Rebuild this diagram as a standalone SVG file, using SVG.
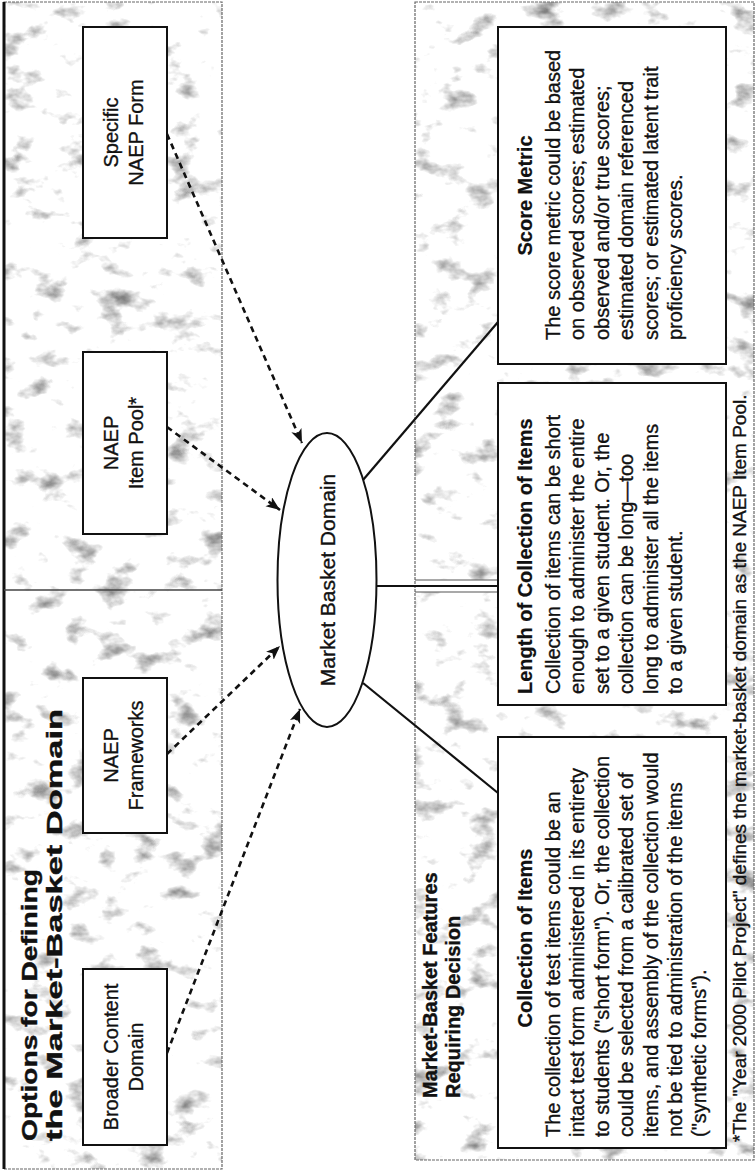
<svg xmlns="http://www.w3.org/2000/svg" width="756" height="1174" viewBox="0 0 756 1174">
<defs>
<style>
.t{font-family:"Liberation Sans",Arial,Helvetica,sans-serif;fill:#111;stroke:#111;stroke-width:0.35}
.lbl{font-size:20px}
.ell{font-size:21px}
.hdr{font-size:20px;font-weight:bold;stroke-width:0.2}
.body{font-size:20px}
.title{font-size:22px;font-weight:bold;stroke-width:0.4}
.foot{font-size:19px}
.box{fill:#fff;stroke:#111;stroke-width:2}
.pborder{fill:none;stroke:#666;stroke-width:1.2;stroke-dasharray:3 1}
.tex{fill:#fff;filter:url(#mottle)}
.dash{fill:none;stroke:#111;stroke-width:2.6;stroke-dasharray:6 4.5;marker-end:url(#ah)}
.solid{fill:none;stroke:#111;stroke-width:2.2}
</style>
<marker id="ah" markerUnits="userSpaceOnUse" markerWidth="16" markerHeight="12" refX="14" refY="5.5" orient="auto">
<path d="M0,0 L14,5.5 L0,11 L3.5,5.5 z" fill="#111"/>
</marker>
<filter id="mottle" x="0" y="0" width="1" height="1" color-interpolation-filters="sRGB">
<feTurbulence type="fractalNoise" baseFrequency="0.03 0.045" numOctaves="4" seed="7" result="n"/>
<feColorMatrix in="n" type="matrix" values="0 0 0 0 0.5  0 0 0 0 0.5  0 0 0 0 0.5  3 0 0 0 -1.72"/>
</filter>
</defs>
<rect x="0" y="0" width="756" height="1174" fill="#fff"/>

<g id="panel-options">
<rect class="tex" x="4" y="2" width="218" height="1167"/>
<rect class="pborder" x="4" y="2" width="218" height="1167"/>
<line x1="4" y1="2" x2="4" y2="1169" stroke="#111" stroke-width="3"/>
<line x1="4" y1="590" x2="222" y2="590" stroke="#444" stroke-width="1.5"/>
<g transform="rotate(-90)">
<text class="t title" x="-1141" y="37" textLength="272" lengthAdjust="spacingAndGlyphs">Options for Defining</text>
<text class="t title" x="-1141" y="62" textLength="432" lengthAdjust="spacingAndGlyphs">the Market-Basket Domain</text>
</g>
</g>

<g id="panel-features">
<rect class="tex" x="415" y="2" width="339" height="578"/>
<rect class="tex" x="415" y="592" width="339" height="568"/>
<rect class="pborder" x="415" y="2" width="339" height="1158"/>
<line x1="415" y1="580" x2="498" y2="580" stroke="#555" stroke-width="1.2"/>
<line x1="415" y1="592" x2="498" y2="592" stroke="#555" stroke-width="1.2"/>
<g transform="rotate(-90)">
<text class="t title" x="-1098" y="437" style="font-size:20px">Market-Basket Features</text>
<text class="t title" x="-1098" y="460" style="font-size:20px">Requiring Decision</text>
<text class="t foot" x="-1142" y="746">*The "Year 2000 Pilot Project" defines the market-basket domain as the NAEP Item Pool.</text>
</g>
</g>

<g id="connectors">
<line class="dash" x1="167" y1="134" x2="302" y2="443"/>
<line class="dash" x1="167" y1="427" x2="280" y2="510"/>
<line class="dash" x1="167" y1="754" x2="280" y2="646"/>
<line class="dash" x1="167" y1="1053" x2="300" y2="709"/>
<line class="solid" x1="363" y1="480" x2="498" y2="322"/>
<line class="solid" x1="377" y1="586" x2="498" y2="586"/>
<line class="solid" x1="363" y1="683" x2="498" y2="793"/>
</g>

<g id="node-specific">
<rect class="box" x="83" y="27" width="84" height="211"/>
<g transform="rotate(-90)">
<text class="t lbl" x="-132.5" y="118" text-anchor="middle">Specific</text>
<text class="t lbl" x="-132.5" y="143" text-anchor="middle">NAEP Form</text>
</g>
</g>

<g id="node-itempool">
<rect class="box" x="83" y="352" width="84" height="182"/>
<g transform="rotate(-90)">
<text class="t lbl" x="-443" y="118" text-anchor="middle">NAEP</text>
<text class="t lbl" x="-443" y="143" text-anchor="middle">Item Pool*</text>
</g>
</g>

<g id="node-frameworks">
<rect class="box" x="83" y="678" width="84" height="155"/>
<g transform="rotate(-90)">
<text class="t lbl" x="-755.5" y="118" text-anchor="middle">NAEP</text>
<text class="t lbl" x="-755.5" y="143" text-anchor="middle">Frameworks</text>
</g>
</g>

<g id="node-broader">
<rect class="box" x="83" y="969" width="84" height="176"/>
<g transform="rotate(-90)">
<text class="t lbl" x="-1057" y="118" text-anchor="middle">Broader Content</text>
<text class="t lbl" x="-1057" y="143" text-anchor="middle">Domain</text>
</g>
</g>

<g id="node-domain">
<ellipse cx="327" cy="580" rx="49.5" ry="147" fill="#fff" stroke="#111" stroke-width="2"/>
<g transform="rotate(-90)">
<text class="t ell" x="-580" y="335" text-anchor="middle">Market Basket Domain</text>
</g>
</g>

<g id="node-score">
<rect class="box" x="498" y="27" width="228" height="337"/>
<g transform="rotate(-90)">
<text class="t hdr" x="-195.5" y="532" text-anchor="middle">Score Metric</text>
<text class="t body" x="-340" y="560">The score metric could be based</text>
<text class="t body" x="-340" y="584.4">on observed scores; estimated</text>
<text class="t body" x="-340" y="608.8">observed and/or true scores;</text>
<text class="t body" x="-340" y="633.2">estimated domain referenced</text>
<text class="t body" x="-340" y="657.6">scores; or estimated latent trait</text>
<text class="t body" x="-340" y="682">proficiency scores.</text>
</g>
</g>

<g id="node-length">
<rect class="box" x="498" y="383" width="228" height="322"/>
<g transform="rotate(-90)">
<text class="t hdr" x="-694" y="532">Length of Collection of Items</text>
<text class="t body" x="-694" y="560">Collection of items can be short</text>
<text class="t body" x="-694" y="584.4">enough to administer the entire</text>
<text class="t body" x="-694" y="608.8">set to a given student. Or, the</text>
<text class="t body" x="-694" y="633.2">collection can be long—too</text>
<text class="t body" x="-694" y="657.6">long to administer all the items</text>
<text class="t body" x="-694" y="682">to a given student.</text>
</g>
</g>

<g id="node-collection">
<rect class="box" x="498" y="737" width="228" height="411"/>
<g transform="rotate(-90)">
<text class="t hdr" x="-938" y="532" text-anchor="middle">Collection of Items</text>
<text class="t body" x="-1137" y="560">The collection of test items could be an</text>
<text class="t body" x="-1137" y="584.4">intact test form administered in its entirety</text>
<text class="t body" x="-1137" y="608.8">to students ("short form"). Or, the collection</text>
<text class="t body" x="-1137" y="633.2">could be selected from a calibrated set of</text>
<text class="t body" x="-1137" y="657.6">items, and assembly of the collection would</text>
<text class="t body" x="-1137" y="682">not be tied to administration of the items</text>
<text class="t body" x="-1137" y="706.4">("synthetic forms").</text>
</g>
</g>
</svg>
